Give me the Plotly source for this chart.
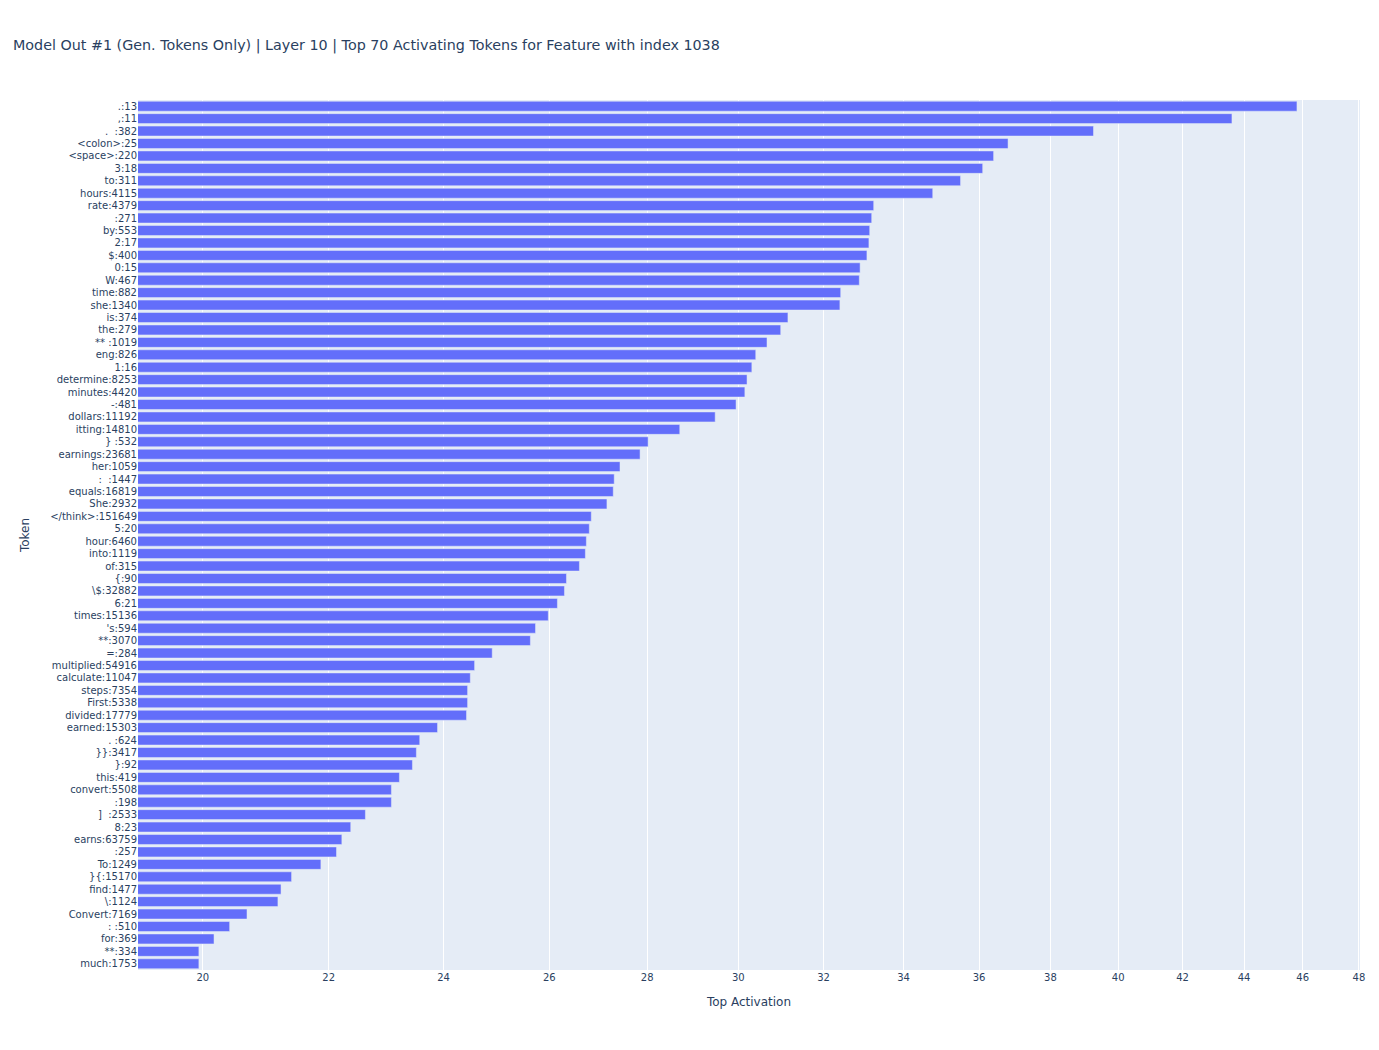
import plotly.graph_objects as go

tokens = [
    ".:13", ",:11", ".  :382", "<colon>:25", "<space>:220", "3:18", "to:311",
    "hours:4115", "rate:4379", " :271", "by:553", "2:17", "$:400", "0:15",
    "W:467", "time:882", "she:1340", "is:374", "the:279", "** :1019",
    "eng:826", "1:16", "determine:8253", "minutes:4420", "-:481",
    "dollars:11192", "itting:14810", "} :532", "earnings:23681", "her:1059",
    ":  :1447", "equals:16819", "She:2932", "</think>:151649", "5:20",
    "hour:6460", "into:1119", "of:315", "{:90", "\\$:32882", "6:21",
    "times:15136", "'s:594", "**:3070", "=:284", "multiplied:54916",
    "calculate:11047", "steps:7354", "First:5338", "divided:17779",
    "earned:15303", ". :624", "}}:3417", "}:92", "this:419", "convert:5508",
    " :198", "]  :2533", "8:23", "earns:63759", " :257", "To:1249",
    "}{:15170", "find:1477", "\\:1124", "Convert:7169", ": :510", "for:369",
    "**:334", "much:1753",
]

activations = [
    45.8, 43.6, 39.26, 36.8, 36.4, 36.1, 35.5,
    34.76, 33.24, 33.19, 33.14, 33.12, 33.07, 32.9,
    32.88, 32.42, 32.40, 31.15, 30.98, 30.66,
    30.4, 30.31, 30.2, 30.15, 29.95,
    29.48, 28.7, 28.02, 27.85, 27.43,
    27.31, 27.29, 27.16, 26.84, 26.8,
    26.74, 26.72, 26.6, 26.34, 26.3, 26.16,
    25.98, 25.73, 25.63, 24.9, 24.57,
    24.49, 24.44, 24.44, 24.42,
    23.89, 23.57, 23.51, 23.44, 23.21, 23.07,
    23.07, 22.62, 22.37, 22.22, 22.13, 21.87,
    21.39, 21.22, 21.17, 20.68, 20.41, 20.17,
    19.94, 19.94,
]

tick_vals = list(range(20, 49, 2))

# svg collapses plain spaces, so keep them as nbsp
labels = [t.replace(" ", "\u00a0") for t in tokens]

fig = go.Figure(go.Bar(x=activations, y=labels, orientation="h"))

fig.update_layout(
    title=dict(text="Model Out #1 (Gen. Tokens Only) | Layer 10 | Top 70 Activating Tokens for Feature with index 1038",
               x=0.0037, y=0.969, font=dict(size=14.3)),
    font=dict(family="Verdana, DejaVu Sans, sans-serif"),
    width=1363,
    height=1034,
    margin=dict(l=130, r=6, t=92, b=72),
    showlegend=False,
    xaxis=dict(type="log", range=[1.2797, 1.6816], tickvals=tick_vals,
               ticktext=[str(v) for v in tick_vals], tickfont=dict(size=10),
               title=dict(text="Top Activation", font=dict(size=12))),
    yaxis=dict(autorange="reversed", tickfont=dict(size=10), automargin=False,
               title=dict(text="Token", font=dict(size=12), standoff=17)),
)

fig.write_html("out.html")
